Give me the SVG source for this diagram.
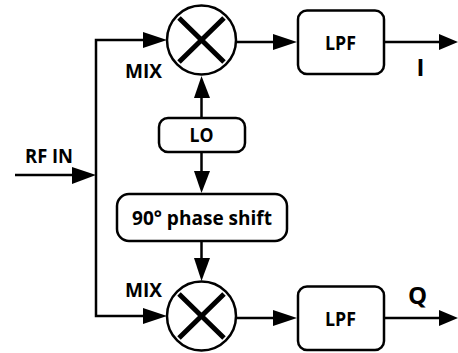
<svg xmlns="http://www.w3.org/2000/svg" width="458" height="353" viewBox="0 0 458 353">
<style>
.b{fill:#fff;stroke:#000;stroke-width:2.5}
.c{fill:none;stroke:#000;stroke-width:2.5}
.x{fill:none;stroke:#000;stroke-width:5}
.t{font-family:"Open Sans","Liberation Sans",sans-serif;font-weight:700;fill:#000;text-anchor:middle;font-size:20px}
.h{fill:#000;stroke:none}
</style>
<rect width="458" height="353" fill="#fff"/>
<g id="connectors">
<path class="c" d="M15 175H90M96 175V40H150M96 175V316H150M236 42H275M384 42H440M236 318H275M384 318H440M201.500 118V95M201.500 152V175M201.500 241V262"/>
<polygon class="h" points="96,175 72,167 72,184"/>
<polygon class="h" points="167,40 143,32 143,48"/>
<polygon class="h" points="167,316 143,308 143,324"/>
<polygon class="h" points="297,42 273,34 273,50"/>
<polygon class="h" points="458,42 439,34 439,50"/>
<polygon class="h" points="297,318 273,310 273,326"/>
<polygon class="h" points="458,318 439,310 439,326"/>
<polygon class="h" points="201.500,76 194,98 210,98"/>
<polygon class="h" points="201.500,193 194,171 210,171"/>
<polygon class="h" points="201.500,281 194,258 210,258"/>
</g>
<g id="mix1"><circle class="b" cx="201.500" cy="40" r="34.500"/><path class="x" d="M179 18L224 62M224 18L179 62"/></g>
<g id="mix2"><circle class="b" cx="201.500" cy="316" r="34.500"/><path class="x" d="M179 294L224 338M224 294L179 338"/></g>
<g id="lpf1"><rect class="b" x="298" y="10.500" width="86" height="63.500" rx="9"/><text class="t" x="340.500" y="50" textLength="31" lengthAdjust="spacingAndGlyphs">LPF</text></g>
<g id="lpf2"><rect class="b" x="298" y="286.500" width="86" height="63.500" rx="9"/><text class="t" x="340.500" y="326" textLength="31" lengthAdjust="spacingAndGlyphs">LPF</text></g>
<g id="lo"><rect class="b" x="159" y="118" width="86" height="34" rx="9"/><text class="t" x="201.500" y="142" textLength="24" lengthAdjust="spacingAndGlyphs">LO</text></g>
<g id="phase"><rect class="b" x="117" y="194" width="170" height="47" rx="12"/><text class="t" x="202" y="225" textLength="140" lengthAdjust="spacingAndGlyphs">90° phase shift</text></g>
<g id="labels">
<text class="t" x="143.500" y="77.500" textLength="37" lengthAdjust="spacingAndGlyphs">MIX</text>
<text class="t" x="143.500" y="296.500" textLength="37" lengthAdjust="spacingAndGlyphs">MIX</text>
<text class="t" x="49" y="162.500" textLength="48" lengthAdjust="spacingAndGlyphs">RF IN</text>
<text class="t" x="420.500" y="76" style="font-size:24px">I</text>
<text class="t" x="417.500" y="304" style="font-size:24px">Q</text>
</g>
</svg>
